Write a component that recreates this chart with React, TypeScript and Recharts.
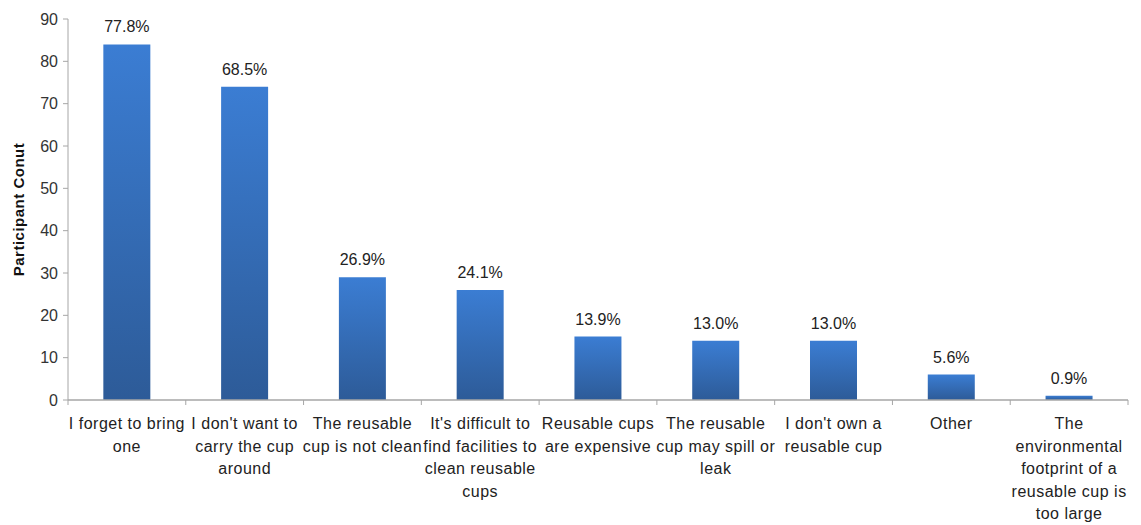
import { BarChart, Bar, XAxis, YAxis, LabelList } from 'recharts'

const categories = [
  'I forget to bring one',
  "I don't want to carry the cup around",
  'The reusable cup is not clean',
  "It's difficult to find facilities to clean reusable cups",
  'Reusable cups are expensive',
  'The reusable cup may spill or leak',
  "I don't own a reusable cup",
  'Other',
  'The environmental footprint of a reusable cup is too large'
]

// wrapped lines as they appear under each bar
const categoryLines = [
  ['I forget to bring', 'one'],
  ["I don't want to", 'carry the cup', 'around'],
  ['The reusable', 'cup is not clean'],
  ["It's difficult to", 'find facilities to', 'clean reusable', 'cups'],
  ['Reusable cups', 'are expensive'],
  ['The reusable', 'cup may spill or', 'leak'],
  ["I don't own a", 'reusable cup'],
  ['Other'],
  ['The', 'environmental', 'footprint of a', 'reusable cup is', 'too large']
]

const counts = [84, 74, 29, 26, 15, 14, 14, 6, 1]
const percentLabels = ['77.8%', '68.5%', '26.9%', '24.1%', '13.9%', '13.0%', '13.0%', '5.6%', '0.9%']
const yTicks = [0, 10, 20, 30, 40, 50, 60, 70, 80, 90]

const data = categories.map((name, i) => ({
  name,
  count: counts[i],
  pct: percentLabels[i]
}))

const W = 1141
const H = 525
const margin = { top: 19, right: 13, bottom: 0, left: 28 }
const yAxisWidth = 40
const xAxisHeight = 125
const plotWidth = W - margin.left - margin.right - yAxisWidth
const halfBand = plotWidth / categories.length / 2

const FONT = '"Liberation Sans", Arial, sans-serif'
const AXIS = '#a6a6a6'

function CategoryTick(props: any) {
  const { x, y, index } = props
  const lines: string[] = categoryLines[index] || []
  const last = index === categories.length - 1
  return (
    <g>
      <line x1={x - halfBand} x2={x - halfBand} y1={y - 8} y2={y - 3} stroke={AXIS} />
      {last && <line x1={x + halfBand} x2={x + halfBand} y1={y - 8} y2={y - 3} stroke={AXIS} />}
      <text
        x={x}
        y={y}
        textAnchor="middle"
        fontSize={16}
        letterSpacing={0.5}
        fill="#222"
        fontFamily={FONT}
      >
        {lines.map((l, i) => (
          <tspan key={i} x={x} dy={i === 0 ? 21 : 22.5}>
            {l}
          </tspan>
        ))}
      </text>
    </g>
  )
}

export default function App() {
  return (
    <div style={{ position: 'absolute', left: 0, top: 0, width: W, height: H, background: '#fff' }}>
      <BarChart width={W} height={H} data={data} margin={margin} barCategoryGap="30%">
        <defs>
          <linearGradient id="barFill" x1="0" y1="0" x2="0" y2="1">
            <stop offset="0%" stopColor="#3b7dd3" />
            <stop offset="100%" stopColor="#2d5b98" />
          </linearGradient>
        </defs>
        <XAxis
          dataKey="name"
          interval={0}
          tickLine={false}
          axisLine={{ stroke: AXIS, strokeWidth: 1.5 }}
          tick={<CategoryTick />}
          height={xAxisHeight}
        />
        <YAxis
          width={yAxisWidth}
          domain={[0, 90]}
          ticks={yTicks}
          interval={0}
          tickSize={5}
          tickMargin={5}
          axisLine={{ stroke: AXIS }}
          tickLine={{ stroke: AXIS }}
          tick={{ fontSize: 16, fill: '#333', fontFamily: FONT }}
          label={{
            value: 'Participant Conut',
            angle: -90,
            position: 'insideLeft',
            dx: -14,
            style: {
              fontSize: 15,
              fontWeight: 'bold',
              letterSpacing: 0.5,
              fill: '#111',
              fontFamily: FONT,
              textAnchor: 'middle'
            }
          }}
        />
        <Bar dataKey="count" fill="url(#barFill)" isAnimationActive={false}>
          <LabelList
            dataKey="pct"
            position="top"
            offset={12}
            style={{ fontSize: 16, fill: '#222', fontFamily: FONT }}
          />
        </Bar>
      </BarChart>
    </div>
  )
}
